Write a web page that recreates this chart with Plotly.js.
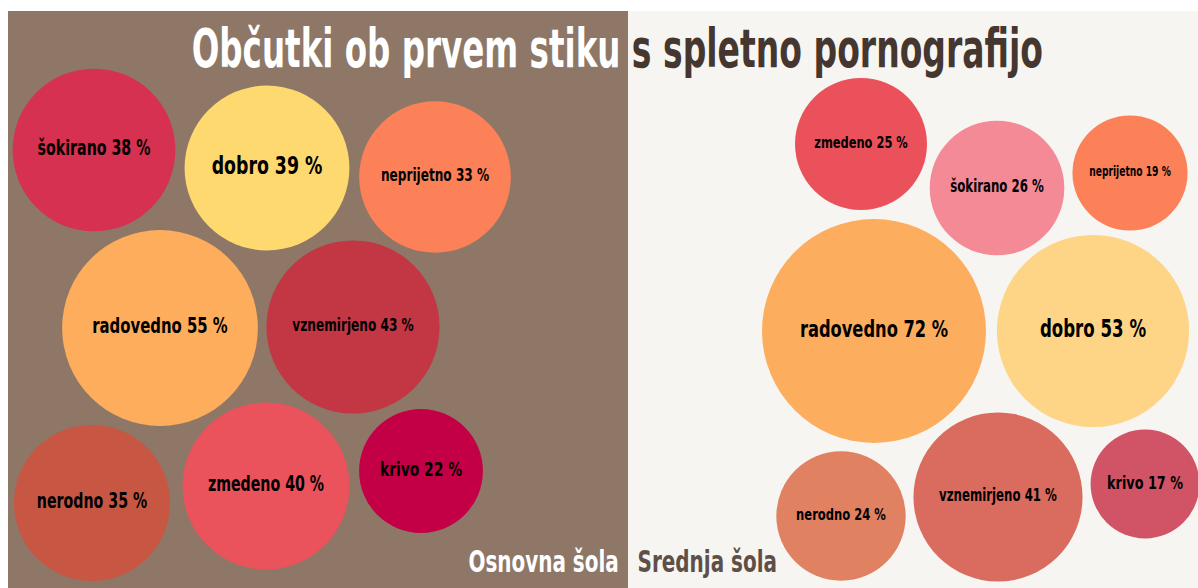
<!DOCTYPE html>
<html>
<head>
<meta charset="utf-8">
<script src="https://cdn.plot.ly/plotly-3.0.1.min.js"></script>
<style>html,body{margin:0;padding:0;background:#ffffff;}#chart{width:1198px;height:588px;}</style>
</head>
<body>
<div id="chart"></div>
<script>
// ---- data ----
const titleLeft = "Občutki ob prvem stiku";
const titleRight = "s spletno pornografijo";
const groupLabels = ["Osnovna šola", "Srednja šola"];

const osCategories = ["šokirano", "dobro", "neprijetno", "radovedno", "vznemirjeno", "nerodno", "zmedeno", "krivo"];
const osValues = [38, 39, 33, 55, 43, 35, 40, 22];

const ssCategories = ["zmedeno", "šokirano", "neprijetno", "radovedno", "dobro", "nerodno", "vznemirjeno", "krivo"];
const ssValues = [25, 26, 19, 72, 53, 24, 41, 17];

// ---- layout (bubble centres in pixel-space axes, colours, label sizes) ----
const osX = [94, 267, 435, 160, 353, 92, 266, 421];
const osY = [150, 168, 177, 328, 327, 503, 486, 471];
const osColors = ["#d63151", "#fdd96f", "#fc8058", "#fdad5c", "#c33643", "#c75743", "#ea525c", "#c30045"];
const osFont = [20.5, 25, 17.5, 21.5, 17.5, 20.5, 20.5, 20];

const ssX = [861, 997, 1130, 874, 1093, 841, 998, 1145];
const ssY = [144, 188, 173, 331, 331, 516, 497, 484];
const ssColors = ["#eb515b", "#f48a96", "#fc8058", "#fdad5e", "#fed587", "#e08161", "#d96b5f", "#d15466"];
const ssFont = [16.5, 17, 13.2, 23.5, 24, 16.7, 17, 18.5];

const FONT = "'DejaVu Sans Condensed', 'Liberation Sans Narrow', sans-serif";
const K = 13.2; // radius px per sqrt(value)

function labels(cats, vals) { return cats.map((c, i) => c + " " + vals[i] + " %"); }

function bubbleTrace(cats, vals, xs, ys, colors, fsizes) {
  return {
    type: "scatter",
    mode: "markers+text",
    x: xs, y: ys,
    text: labels(cats, vals),
    textposition: "middle center",
    textfont: { family: FONT, size: fsizes, color: "#000000", weight: "bold" },
    marker: {
      size: vals, sizemode: "area", sizeref: 1 / (2 * K * K),
      color: colors, opacity: 1, line: { width: 0 }
    },
    hoverinfo: "text",
    showlegend: false,
    cliponaxis: false
  };
}

const data = [
  bubbleTrace(osCategories, osValues, osX, osY, osColors, osFont),
  bubbleTrace(ssCategories, ssValues, ssX, ssY, ssColors, ssFont)
];

const layout = {
  width: 1198, height: 588,
  margin: { l: 0, r: 0, t: 0, b: 0 },
  paper_bgcolor: "#ffffff",
  plot_bgcolor: "rgba(0,0,0,0)",
  xaxis: { range: [0, 1198], visible: false, fixedrange: true },
  yaxis: { range: [588, 0], visible: false, fixedrange: true },
  shapes: [
    { type: "rect", xref: "x", yref: "y", x0: 8, x1: 628, y0: 11, y1: 588, fillcolor: "#8e7767", line: { width: 0 }, layer: "below" },
    { type: "rect", xref: "x", yref: "y", x0: 628, x1: 1198, y0: 11, y1: 588, fillcolor: "#f7f5f1", line: { width: 0 }, layer: "below" }
  ],
  annotations: [
    { xref: "x", yref: "y", x: 406, y: 48, xanchor: "center", yanchor: "middle", text: titleLeft, showarrow: false,
      font: { family: FONT, size: 54, color: "#ffffff", weight: "bold" } },
    { xref: "x", yref: "y", x: 837, y: 48, xanchor: "center", yanchor: "middle", text: titleRight, showarrow: false,
      font: { family: FONT, size: 54, color: "#45372f", weight: "bold" } },
    { xref: "x", yref: "y", x: 543, y: 561, xanchor: "center", yanchor: "middle", text: groupLabels[0], showarrow: false,
      font: { family: FONT, size: 30, color: "#ffffff", weight: "bold" } },
    { xref: "x", yref: "y", x: 707, y: 561, xanchor: "center", yanchor: "middle", text: groupLabels[1], showarrow: false,
      font: { family: FONT, size: 30, color: "#5e4f48", weight: "bold" } }
  ]
};

// horizontal condensing of text about its own centre, to imitate the narrow display face of the original
function condense(el, f) {
  const b = el.getBBox();
  if (b.width > 0) {
    const cx = b.x + b.width / 2;
    const prev = el.getAttribute("transform") || "";
    el.setAttribute("transform", "translate(" + cx + ",0) scale(" + f + ",1) translate(" + (-cx) + ",0) " + prev);
  }
}

Plotly.newPlot("chart", data, layout, { displayModeBar: false, staticPlot: true }).then(function (gd) {
  gd.querySelectorAll(".textpoint text").forEach(function (t) { condense(t, 0.77); });
  const ann = gd.querySelectorAll(".annotation-text");
  const f = [0.67, 0.68, 0.74, 0.74];
  ann.forEach(function (t, i) { condense(t, f[i]); });
});
</script>
</body>
</html>
